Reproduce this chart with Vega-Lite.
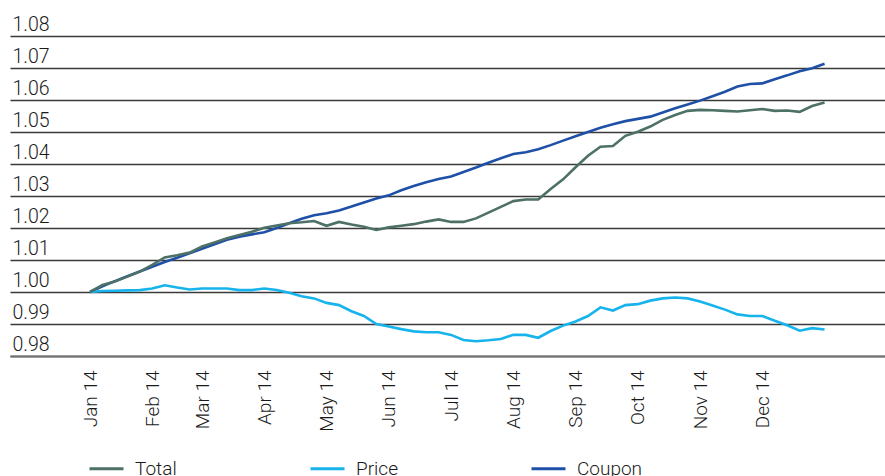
{
  "$schema": "https://vega.github.io/schema/vega-lite/v6.json",
  "width": 875,
  "height": 320,
  "autosize": {"type": "none"},
  "padding": {"left": 10, "top": 36, "right": 0, "bottom": 120},
  "background": "white",
  "config": {
    "view": {"stroke": null},
    "font": "Roboto",
    "axis": {"labelFont": "Roboto", "labelFontWeight": 300, "labelColor": "#1a1a1a"},
    "legend": {"labelFont": "Roboto", "labelFontWeight": 300, "labelColor": "#1a1a1a"}
  },
  "data": {
    "values": [
      {"i": 0, "date": "2014-01-01", "Total": 1.0000, "Price": 1.0000, "Coupon": 1.0000},
      {"i": 1, "date": "2014-01-07", "Total": 1.0022, "Price": 1.0003, "Coupon": 1.0018},
      {"i": 2, "date": "2014-01-13", "Total": 1.0033, "Price": 1.0004, "Coupon": 1.0034},
      {"i": 3, "date": "2014-01-19", "Total": 1.0048, "Price": 1.0005, "Coupon": 1.0049},
      {"i": 4, "date": "2014-01-25", "Total": 1.0064, "Price": 1.0006, "Coupon": 1.0064},
      {"i": 5, "date": "2014-02-01", "Total": 1.0085, "Price": 1.0011, "Coupon": 1.0079},
      {"i": 6, "date": "2014-02-08", "Total": 1.0108, "Price": 1.0021, "Coupon": 1.0094},
      {"i": 7, "date": "2014-02-15", "Total": 1.0115, "Price": 1.0014, "Coupon": 1.0107},
      {"i": 8, "date": "2014-02-22", "Total": 1.0123, "Price": 1.0008, "Coupon": 1.0121},
      {"i": 9, "date": "2014-03-01", "Total": 1.0142, "Price": 1.0011, "Coupon": 1.0135},
      {"i": 10, "date": "2014-03-07", "Total": 1.0155, "Price": 1.0011, "Coupon": 1.0149},
      {"i": 11, "date": "2014-03-13", "Total": 1.0168, "Price": 1.0011, "Coupon": 1.0163},
      {"i": 12, "date": "2014-03-19", "Total": 1.0178, "Price": 1.0006, "Coupon": 1.0173},
      {"i": 13, "date": "2014-03-25", "Total": 1.0188, "Price": 1.0006, "Coupon": 1.0180},
      {"i": 14, "date": "2014-04-01", "Total": 1.0201, "Price": 1.0011, "Coupon": 1.0187},
      {"i": 15, "date": "2014-04-07", "Total": 1.0208, "Price": 1.0006, "Coupon": 1.0200},
      {"i": 16, "date": "2014-04-13", "Total": 1.0215, "Price": 0.9998, "Coupon": 1.0215},
      {"i": 17, "date": "2014-04-19", "Total": 1.0218, "Price": 0.9987, "Coupon": 1.0229},
      {"i": 18, "date": "2014-04-25", "Total": 1.0222, "Price": 0.9980, "Coupon": 1.0240},
      {"i": 19, "date": "2014-05-01", "Total": 1.0207, "Price": 0.9966, "Coupon": 1.0246},
      {"i": 20, "date": "2014-05-07", "Total": 1.0219, "Price": 0.9959, "Coupon": 1.0255},
      {"i": 21, "date": "2014-05-13", "Total": 1.0211, "Price": 0.9940, "Coupon": 1.0267},
      {"i": 22, "date": "2014-05-19", "Total": 1.0204, "Price": 0.9925, "Coupon": 1.0280},
      {"i": 23, "date": "2014-05-25", "Total": 1.0194, "Price": 0.9900, "Coupon": 1.0292},
      {"i": 24, "date": "2014-06-01", "Total": 1.0202, "Price": 0.9892, "Coupon": 1.0302},
      {"i": 25, "date": "2014-06-07", "Total": 1.0207, "Price": 0.9884, "Coupon": 1.0318},
      {"i": 26, "date": "2014-06-13", "Total": 1.0212, "Price": 0.9877, "Coupon": 1.0331},
      {"i": 27, "date": "2014-06-19", "Total": 1.0220, "Price": 0.9874, "Coupon": 1.0343},
      {"i": 28, "date": "2014-06-25", "Total": 1.0227, "Price": 0.9874, "Coupon": 1.0353},
      {"i": 29, "date": "2014-07-01", "Total": 1.0219, "Price": 0.9866, "Coupon": 1.0361},
      {"i": 30, "date": "2014-07-07", "Total": 1.0219, "Price": 0.9850, "Coupon": 1.0375},
      {"i": 31, "date": "2014-07-13", "Total": 1.0230, "Price": 0.9846, "Coupon": 1.0389},
      {"i": 32, "date": "2014-07-19", "Total": 1.0248, "Price": 0.9849, "Coupon": 1.0404},
      {"i": 33, "date": "2014-07-25", "Total": 1.0266, "Price": 0.9853, "Coupon": 1.0418},
      {"i": 34, "date": "2014-08-01", "Total": 1.0284, "Price": 0.9866, "Coupon": 1.0431},
      {"i": 35, "date": "2014-08-07", "Total": 1.0289, "Price": 0.9866, "Coupon": 1.0437},
      {"i": 36, "date": "2014-08-13", "Total": 1.0289, "Price": 0.9857, "Coupon": 1.0446},
      {"i": 37, "date": "2014-08-19", "Total": 1.0322, "Price": 0.9878, "Coupon": 1.0459},
      {"i": 38, "date": "2014-08-25", "Total": 1.0352, "Price": 0.9895, "Coupon": 1.0473},
      {"i": 39, "date": "2014-09-01", "Total": 1.0390, "Price": 0.9908, "Coupon": 1.0487},
      {"i": 40, "date": "2014-09-07", "Total": 1.0426, "Price": 0.9925, "Coupon": 1.0500},
      {"i": 41, "date": "2014-09-13", "Total": 1.0454, "Price": 0.9952, "Coupon": 1.0513},
      {"i": 42, "date": "2014-09-19", "Total": 1.0456, "Price": 0.9942, "Coupon": 1.0524},
      {"i": 43, "date": "2014-09-25", "Total": 1.0488, "Price": 0.9959, "Coupon": 1.0534},
      {"i": 44, "date": "2014-10-01", "Total": 1.0501, "Price": 0.9962, "Coupon": 1.0541},
      {"i": 45, "date": "2014-10-07", "Total": 1.0517, "Price": 0.9973, "Coupon": 1.0548},
      {"i": 46, "date": "2014-10-13", "Total": 1.0538, "Price": 0.9980, "Coupon": 1.0561},
      {"i": 47, "date": "2014-10-19", "Total": 1.0553, "Price": 0.9983, "Coupon": 1.0574},
      {"i": 48, "date": "2014-10-25", "Total": 1.0566, "Price": 0.9980, "Coupon": 1.0586},
      {"i": 49, "date": "2014-11-01", "Total": 1.0569, "Price": 0.9970, "Coupon": 1.0598},
      {"i": 50, "date": "2014-11-07", "Total": 1.0568, "Price": 0.9958, "Coupon": 1.0612},
      {"i": 51, "date": "2014-11-13", "Total": 1.0566, "Price": 0.9945, "Coupon": 1.0626},
      {"i": 52, "date": "2014-11-19", "Total": 1.0564, "Price": 0.9930, "Coupon": 1.0642},
      {"i": 53, "date": "2014-11-25", "Total": 1.0568, "Price": 0.9925, "Coupon": 1.0650},
      {"i": 54, "date": "2014-12-01", "Total": 1.0572, "Price": 0.9925, "Coupon": 1.0652},
      {"i": 55, "date": "2014-12-07", "Total": 1.0566, "Price": 0.9910, "Coupon": 1.0665},
      {"i": 56, "date": "2014-12-13", "Total": 1.0567, "Price": 0.9896, "Coupon": 1.0677},
      {"i": 57, "date": "2014-12-19", "Total": 1.0563, "Price": 0.9879, "Coupon": 1.0690},
      {"i": 58, "date": "2014-12-25", "Total": 1.0581, "Price": 0.9887, "Coupon": 1.0699},
      {"i": 59, "date": "2014-12-31", "Total": 1.0592, "Price": 0.9883, "Coupon": 1.0713}
    ]
  },
  "transform": [
    {"fold": ["Coupon", "Price", "Total"], "as": ["series", "value"]}
  ],
  "mark": {"type": "line", "strokeWidth": 2.6, "interpolate": "linear"},
  "encoding": {
    "x": {
      "field": "i",
      "type": "quantitative",
      "scale": {"domain": [-6.426, 63.855], "nice": false, "zero": false},
      "axis": {
        "title": null,
        "values": [0, 5, 9, 14, 19, 24, 29, 34, 39, 44, 49, 54],
        "labelAngle": -90,
        "labelAlign": "right",
        "labelBaseline": "middle",
        "labelFontSize": 19,
        "labelPadding": 14,
        "labelOverlap": false,
        "labelFlush": false,
        "labelExpr": "['Jan 14','Feb 14','Mar 14','Apr 14','May 14','Jun 14','Jul 14','Aug 14','Sep 14','Oct 14','Nov 14','Dec 14'][indexof([0,5,9,14,19,24,29,34,39,44,49,54], datum.value)]",
        "ticks": false,
        "tickSize": 0,
        "grid": false,
        "domain": true,
        "domainColor": "#707070",
        "domainWidth": 2
      }
    },
    "y": {
      "field": "value",
      "type": "quantitative",
      "scale": {"domain": [0.98, 1.08], "nice": false, "zero": false},
      "axis": {
        "title": null,
        "values": [0.98, 0.99, 1.0, 1.01, 1.02, 1.03, 1.04, 1.05, 1.06, 1.07, 1.08],
        "format": ".2f",
        "domain": false,
        "ticks": false,
        "tickSize": 0,
        "grid": true,
        "gridColor": "#3a3a3a",
        "gridWidth": 1.3,
        "labelAlign": "left",
        "labelBaseline": "alphabetic",
        "labelPadding": -2,
        "labelOffset": -6,
        "labelFontSize": 19.5
      }
    },
    "color": {
      "field": "series",
      "type": "nominal",
      "scale": {"domain": ["Total", "Price", "Coupon"], "range": ["#4d7067", "#17b3ec", "#1f50a8"]},
      "legend": {
        "title": null,
        "orient": "none",
        "legendX": 78,
        "legendY": 414,
        "direction": "horizontal",
        "columns": 3,
        "gridAlign": "all",
        "columnPadding": 103,
        "symbolType": "stroke",
        "symbolSize": 1156,
        "symbolStrokeWidth": 3,
        "labelOffset": 10,
        "labelFontSize": 19
      }
    }
  }
}
